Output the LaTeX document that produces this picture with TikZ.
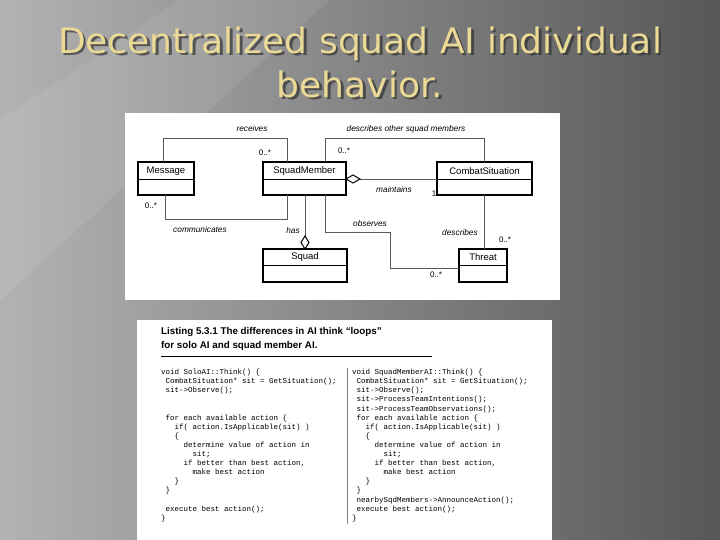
\documentclass[tikz,border=0pt]{standalone}
\usepackage{fontspec}
\setmainfont{DejaVu Sans}
\newfontfamily\uml{Liberation Sans}
\newfontfamily\codef{Liberation Mono}
\usetikzlibrary{shapes.geometric}
\definecolor{titlec}{HTML}{EBD996}
\begin{document}
\begin{tikzpicture}[x=1pt,y=-1pt,
  cls/.style={draw,line width=1.3pt},
  lnk/.style={draw,line width=0.8pt,gray!70!black},
  lbl/.style={font=\uml\itshape\fontsize{8.3}{9}\selectfont,inner sep=0pt},
  mult/.style={font=\uml\fontsize{8}{9}\selectfont,inner sep=0pt},
  cname/.style={font=\uml\fontsize{9.5}{10}\selectfont,inner sep=0pt},
  code/.style={font=\codef\fontsize{7.5}{9.1}\selectfont,align=left,anchor=north west,inner sep=0pt},
  ttl/.style={font=\fontsize{35}{44}\selectfont,align=center,xscale=1.03}]
\useasboundingbox (0,0) rectangle (720,540);
\shade[shading angle=115,left color=gray!60!white,right color=black!66] (0,0) rectangle (720,540);
\fill[white,opacity=0.08] (0,540) -- (0,120) -- (180,0) -- (330,0) -- (0,300) -- cycle;
% title
\node[ttl,text=black!80,opacity=0.7] at (362.5,64.5) {Decentralized squad AI individual\\behavior.};
\node[ttl,text=titlec] (title) at (360,62) {Decentralized squad AI individual\\behavior.};
% UML image
\fill[white] (125,113) rectangle (560,300);
\node[cls,minimum width=56pt,minimum height=33pt] (msg) at (166,178.5) {};
\node[cls,minimum width=83pt,minimum height=33pt] (sm) at (304.5,178.5) {};
\node[cls,minimum width=95pt,minimum height=33pt] (cs) at (484.5,178.5) {};
\node[cls,minimum width=84pt,minimum height=33pt] (sq) at (305,265.5) {};
\node[cls,minimum width=48pt,minimum height=33pt] (th) at (483,265.5) {};
\draw[line width=0.8pt] (138,179) -- (194,179) (263,179) -- (346,179) (437,179) -- (532,179)
  (263,265) -- (347,265) (459,265) -- (507,265);
\node[cname] at (166,171) {Message};
\node[cname] at (304.5,171) {SquadMember};
\node[cname] at (484.5,171) {CombatSituation};
\node[cname] at (305,257) {Squad};
\node[cname] at (483,257) {Threat};
% links
\draw[lnk] (163,162) -- (163,138) -- (287,138) -- (287,162);
\draw[lnk] (165,195) -- (165,219) -- (287,219) -- (287,195);
\draw[lnk] (325,162) -- (325,138) -- (484,138) -- (484,162);
\draw[lnk] (360,179) -- (437,179);
\draw[line width=1pt,fill=white] (346,179) -- (353,175) -- (360,179) -- (353,183) -- cycle;
\draw[lnk] (305,195) -- (305,236);
\draw[line width=1pt,fill=white] (305,236) -- (309,242.5) -- (305,249) -- (301,242.5) -- cycle;
\draw[lnk] (325,195) -- (325,232) -- (390,232) -- (390,268) -- (459,268);
\draw[lnk] (484,195) -- (484,249);
\node[lbl] at (252,129) {receives};
\node[lbl] at (406,129) {describes other squad members};
\node[lbl] at (394,190) {maintains};
\node[lbl] at (200,230) {communicates};
\node[lbl] at (293,231) {has};
\node[lbl] at (370,224) {observes};
\node[lbl] at (460,233) {describes};
\node[mult] at (265,153) {0..*};
\node[mult] at (344,151) {0..*};
\node[mult] at (434,194) {1};
\node[mult] at (151,206) {0..*};
\node[mult] at (505,240) {0..*};
\node[mult] at (436,275) {0..*};
% listing image
\fill[white] (137,320) rectangle (552,540);
\node[font=\uml\bfseries\fontsize{9.8}{14.5}\selectfont,align=left,anchor=north west,inner sep=0pt] (lt) at (161,327) {Listing 5.3.1 The differences in AI think “loops”\\for solo AI and squad member AI.};
\draw[line width=0.6pt] (161,356) -- (432,356);
\draw[line width=0.4pt,gray] (347,368) -- (347,524);
\node[code] (left) at (161,369) {void SoloAI::Think() \{\\
\ CombatSituation* sit = GetSituation();\\
\ sit->Observe();\\
\mbox{}\\
\mbox{}\\
\ for each available action \{\\
\ \ \ if( action.IsApplicable(sit) )\\
\ \ \ \{\\
\ \ \ \ \ determine value of action in\\
\ \ \ \ \ \ \ sit;\\
\ \ \ \ \ if better than best action,\\
\ \ \ \ \ \ \ make best action\\
\ \ \ \}\\
\ \}\\
\mbox{}\\
\ execute best action();\\
\}};
\node[code] (right) at (352,369) {void SquadMemberAI::Think() \{\\
\ CombatSituation* sit = GetSituation();\\
\ sit->Observe();\\
\ sit->ProcessTeamIntentions();\\
\ sit->ProcessTeamObservations();\\
\ for each available action \{\\
\ \ \ if( action.IsApplicable(sit) )\\
\ \ \ \{\\
\ \ \ \ \ determine value of action in\\
\ \ \ \ \ \ \ sit;\\
\ \ \ \ \ if better than best action,\\
\ \ \ \ \ \ \ make best action\\
\ \ \ \}\\
\ \}\\
\ nearbySqdMembers->AnnounceAction();\\
\ execute best action();\\
\}};
\end{tikzpicture}
\end{document}
